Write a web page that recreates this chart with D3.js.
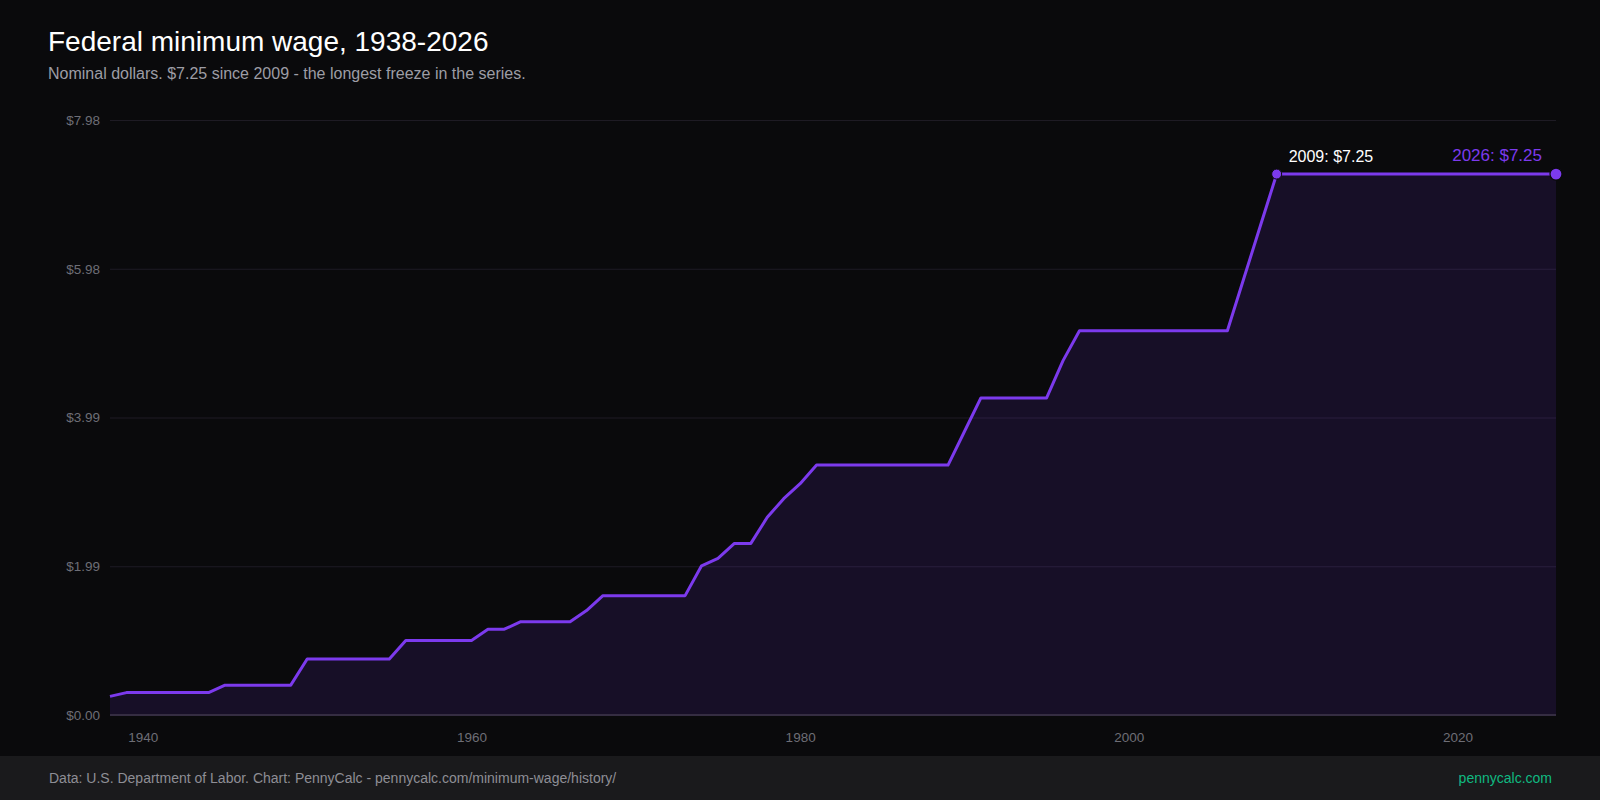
<!DOCTYPE html>
<html>
<head>
<meta charset="utf-8">
<script src="https://cdn.jsdelivr.net/npm/d3@7"></script>
<style>
  html, body { margin: 0; padding: 0; background: #0a0a0c; }
  svg { display: block; font-family: "Liberation Sans", Arial, sans-serif; }
</style>
</head>
<body>
<script>
// federal minimum wage, one value per year (nominal $)
let years = [];
for (let y = 1938; y <= 2026; y++) years.push(y);

let wages = [
  0.25, 0.30, 0.30, 0.30, 0.30, 0.30, 0.30, 0.40, 0.40, 0.40,   // 1938-1947
  0.40, 0.40, 0.75, 0.75, 0.75, 0.75, 0.75, 0.75, 1.00, 1.00,   // 1948-1957
  1.00, 1.00, 1.00, 1.15, 1.15, 1.25, 1.25, 1.25, 1.25, 1.40,   // 1958-1967
  1.60, 1.60, 1.60, 1.60, 1.60, 1.60, 2.00, 2.10, 2.30, 2.30,   // 1968-1977
  2.65, 2.90, 3.10, 3.35, 3.35, 3.35, 3.35, 3.35, 3.35, 3.35,   // 1978-1987
  3.35, 3.35, 3.80, 4.25, 4.25, 4.25, 4.25, 4.25, 4.75, 5.15,   // 1988-1997
  5.15, 5.15, 5.15, 5.15, 5.15, 5.15, 5.15, 5.15, 5.15, 5.85,   // 1998-2007
  6.55, 7.25, 7.25, 7.25, 7.25, 7.25, 7.25, 7.25, 7.25, 7.25,   // 2008-2017
  7.25, 7.25, 7.25, 7.25, 7.25, 7.25, 7.25, 7.25, 7.25          // 2018-2026
];

let xTicks = [1940, 1960, 1980, 2000, 2020];
let callouts = [
  { year: 2009, label: "2009: $7.25" },
  { year: 2026, label: "2026: $7.25" }
];

let w = 1600, h = 800;
let margin = { top: 120, right: 44, bottom: 85, left: 110 };
let purple = "#7c3aed";

let data = years.map((yr, i) => ({ year: yr, wage: wages[i] }));
let yMax = d3.max(wages) * 1.1;

let svg = d3.select("body")
  .append("svg")
  .attr("width", w)
  .attr("height", h);

svg.append("rect")
  .attr("width", w)
  .attr("height", h)
  .attr("fill", "#0a0a0c");

let x = d3.scaleLinear()
  .domain([1938, 2026])
  .range([margin.left, w - margin.right]);

let y = d3.scaleLinear()
  .domain([0, yMax])
  .range([h - margin.bottom, margin.top]);

// title block
svg.append("text")
  .attr("x", 48).attr("y", 51)
  .attr("fill", "#ffffff")
  .attr("font-size", 28)
  .text("Federal minimum wage, 1938-2026");

svg.append("text")
  .attr("x", 48).attr("y", 79)
  .attr("fill", "#9d9da5")
  .attr("font-size", 16)
  .text("Nominal dollars. $7.25 since 2009 - the longest freeze in the series.");

// y grid + labels
let yTicks = [0, 0.25, 0.5, 0.75, 1].map(f => f * yMax);

let yAxis = d3.axisLeft(y)
  .tickValues(yTicks)
  .tickSize(-(w - margin.left - margin.right))
  .tickPadding(10)
  .tickFormat(d => "$" + d.toFixed(2));

svg.append("g")
  .attr("transform", `translate(${margin.left},0)`)
  .call(yAxis)
  .call(g => g.select(".domain").remove())
  .call(g => g.selectAll(".tick line").attr("stroke", "#1e1b24").attr("stroke-width", 1.2))
  .call(g => g.selectAll(".tick text")
    .attr("fill", "#6e6e76")
    .attr("font-size", 13.5)
    .attr("font-family", "Liberation Sans, Arial, sans-serif"));

// area + line
let area = d3.area()
  .x(d => x(d.year))
  .y0(y(0))
  .y1(d => y(d.wage));

let line = d3.line()
  .x(d => x(d.year))
  .y(d => y(d.wage));

svg.append("path")
  .datum(data)
  .attr("d", area)
  .attr("fill", purple)
  .attr("fill-opacity", 0.12);

// baseline
svg.append("line")
  .attr("x1", margin.left).attr("x2", w - margin.right)
  .attr("y1", y(0)).attr("y2", y(0))
  .attr("stroke", "#352d42")
  .attr("stroke-width", 2);

svg.append("path")
  .datum(data)
  .attr("d", line)
  .attr("fill", "none")
  .attr("stroke", purple)
  .attr("stroke-width", 3)
  .attr("stroke-linejoin", "round");

// x axis labels
let xAxis = d3.axisBottom(x)
  .tickValues(xTicks)
  .tickSize(0)
  .tickPadding(17)
  .tickFormat(d3.format("d"));

svg.append("g")
  .attr("transform", `translate(0,${y(0)})`)
  .call(xAxis)
  .call(g => g.select(".domain").remove())
  .call(g => g.selectAll(".tick text")
    .attr("fill", "#6e6e76")
    .attr("font-size", 13.5)
    .attr("font-family", "Liberation Sans, Arial, sans-serif"));

// callouts
let first = data.find(d => d.year === callouts[0].year);
let last = data.find(d => d.year === callouts[1].year);

svg.append("circle")
  .attr("cx", x(first.year)).attr("cy", y(first.wage))
  .attr("r", 5)
  .attr("fill", purple)
  .attr("stroke", "#0a0a0c")
  .attr("stroke-width", 1);

svg.append("circle")
  .attr("cx", x(last.year)).attr("cy", y(last.wage))
  .attr("r", 6)
  .attr("fill", purple)
  .attr("stroke", "#0a0a0c")
  .attr("stroke-width", 1.2);

svg.append("text")
  .attr("x", x(first.year) + 12)
  .attr("y", y(first.wage) - 12)
  .attr("fill", "#ffffff")
  .attr("font-size", 16)
  .text(callouts[0].label);

svg.append("text")
  .attr("x", x(last.year) - 14)
  .attr("y", y(last.wage) - 13)
  .attr("text-anchor", "end")
  .attr("fill", purple)
  .attr("font-size", 17)
  .text(callouts[1].label);

// footer
svg.append("rect")
  .attr("x", 0).attr("y", 756)
  .attr("width", w).attr("height", h - 756)
  .attr("fill", "#1a1a1c");

svg.append("text")
  .attr("x", 49).attr("y", 783)
  .attr("fill", "#8e8e95")
  .attr("font-size", 14)
  .text("Data: U.S. Department of Labor. Chart: PennyCalc - pennycalc.com/minimum-wage/history/");

svg.append("text")
  .attr("x", 1552).attr("y", 783)
  .attr("text-anchor", "end")
  .attr("fill", "#10b981")
  .attr("font-size", 14)
  .text("pennycalc.com");
</script>
</body>
</html>
